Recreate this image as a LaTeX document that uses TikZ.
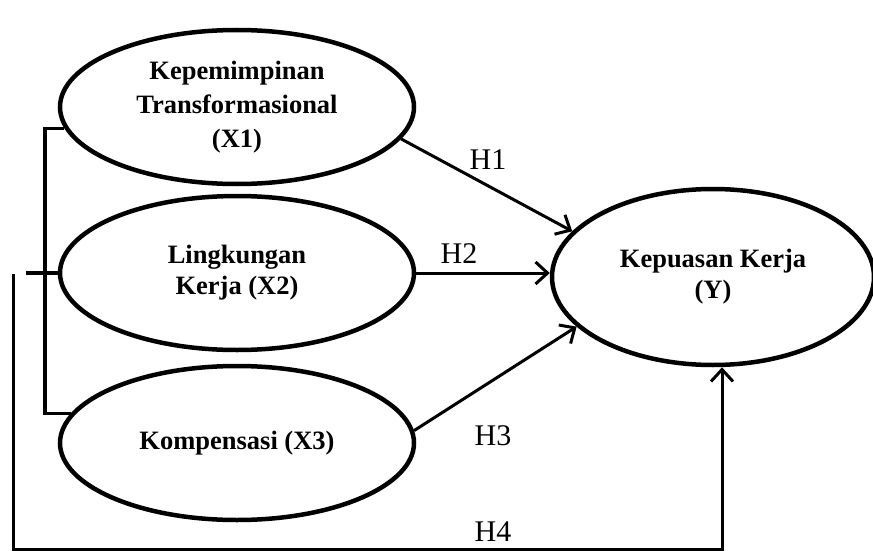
\documentclass[tikz,border=0pt]{standalone}
\usepackage{fontspec}
\setmainfont{Liberation Serif}
\usetikzlibrary{shapes.geometric,arrows.meta}
\begin{document}
\begin{tikzpicture}[x=1pt,y=-1pt,
  var/.style={ellipse,draw,line width=4.5pt,minimum width=354pt,minimum height=154pt,
    inner sep=0pt,align=center,font=\fontsize{26.5}{31}\selectfont\bfseries},
  link/.style={line width=3pt,-{Straight Barb[length=12pt,width=22pt]}},
  brace/.style={line width=3.2pt},
  hyp/.style={font=\fontsize{30}{34}\selectfont}]
\useasboundingbox (0,0) rectangle (873,551);
% variables
\node[var] (x1) at (237,107) {Kepemimpinan\\[3pt]Transformasional\\[3pt](X1)};
\node[var] (x2) at (237,273) {Lingkungan\\Kerja (X2)};
\node[var] (x3) at (237,443) {Kompensasi (X3)};
\node[var,minimum width=322pt,minimum height=176pt] (y) at (713,277) {Kepuasan Kerja\\(Y)};
% bracket joining X1..X3
\coordinate (brk) at (45,273);
\coordinate (stub) at (26,273);
\draw[brace] (x1.187) -| (brk) |- (x3.170);
\draw[brace] (stub) -- (x2.west);
% hypotheses
\draw[link] (x1.-11) -- (y.162);
\draw[link] (x2.east) -- (x2.east -| y.west);
\draw[link] (x3.4) -- (y.200);
\coordinate (h4a) at (13,274);
\coordinate (h4b) at (13,549);
\draw[link] (h4a) -- (h4b) -| ([xshift=9pt]y.south);
\node[hyp] (h1) at (488,160) {H1};
\node[hyp] (h2) at (459,254) {H2};
\node[hyp] (h3) at (493,436) {H3};
\node[hyp] (h4) at (493,532) {H4};
\end{tikzpicture}
\end{document}
